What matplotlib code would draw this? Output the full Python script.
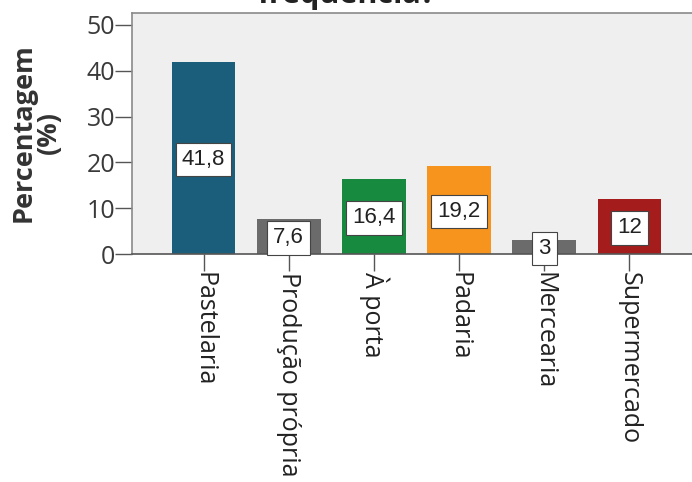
import matplotlib
matplotlib.use("Agg")
import matplotlib.pyplot as plt

# data
categories = ["Pastelaria", "Produção própria", "À porta", "Padaria", "Mercearia", "Supermercado"]
values = [41.8, 7.6, 16.4, 19.2, 3, 12]
bar_colors = ["#1b5e7b", "#6b6b6b", "#188a3f", "#f7941d", "#6b6b6b", "#a51c1c"]
y_ticks = [0, 10, 20, 30, 40, 50]
title_text = "frequência?"
y_label = "Percentagem\n(%)"


def value_label(v):
    return f"{v:g}".replace(".", ",")


def main():
    fig = plt.figure(figsize=(6.92, 4.82), dpi=100)
    fig.patch.set_facecolor("white")

    # axes run a bit past the right edge, like the cropped original
    ax = fig.add_axes([132 / 692, 1 - 254 / 482, (701 - 132) / 692, (254 - 13) / 482])
    ax.set_facecolor("#efefef")

    x = range(len(categories))
    ax.bar(x, values, width=0.75, color=bar_colors, zorder=2)

    for i, v in zip(x, values):
        ax.text(i, v / 2 - 0.3, value_label(v), ha="center", va="center",
                fontsize=16, family="Liberation Sans", color="#222222", zorder=3,
                bbox=dict(boxstyle="square,pad=0.28", fc="white", ec="#444444", lw=0.8))

    ax.set_xlim(-0.84, 5.84)
    ax.set_ylim(0, 52.6)
    ax.set_yticks(y_ticks)
    ax.set_yticklabels([str(t) for t in y_ticks], family="Open Sans", fontsize=18, color="#3a3a3a")
    ax.set_xticks(list(x))
    ax.set_xticklabels(categories, rotation=-90, family="Open Sans", fontsize=18,
                       color="#222222", ha="center", va="top")

    ax.tick_params(axis="y", length=12, width=1, color="#555555", pad=0)
    ax.tick_params(axis="x", length=12, width=1, color="#555555", pad=1)

    for side in ["top", "left", "right"]:
        ax.spines[side].set_color("#8a8a8a")
        ax.spines[side].set_linewidth(1.2)
    ax.spines["bottom"].set_color("#555555")
    ax.spines["bottom"].set_linewidth(1.2)

    fig.text(36 / 692, 1 - 133 / 482, y_label, rotation=90, ha="center", va="center",
             multialignment="center", family="Open Sans", fontweight="bold",
             fontsize=19.5, color="#333333", linespacing=0.95)

    # only the last line of the title shows above the plot
    fig.text(0.5, 1 - 3 / 482, title_text, ha="center", va="baseline",
             family="Open Sans", fontweight="bold", fontsize=22, color="#222222")

    fig.savefig("out.png", dpi=100)


if __name__ == "__main__":
    main()
